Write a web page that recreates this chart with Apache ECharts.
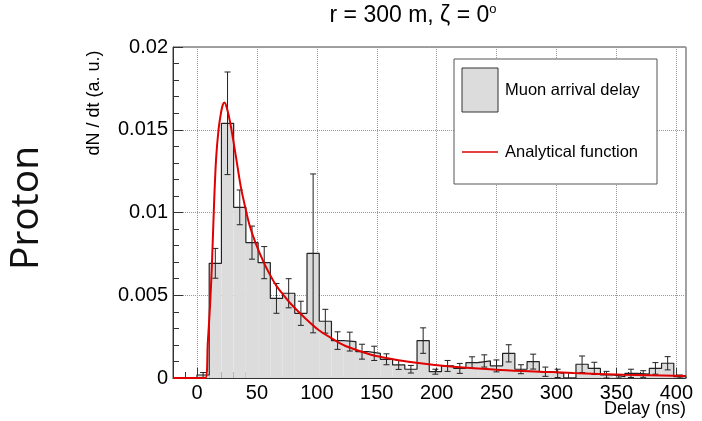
<!DOCTYPE html>
<html>
<head>
<meta charset="utf-8">
<script src="https://cdn.jsdelivr.net/npm/echarts@6/dist/echarts.min.js"></script>
<style>
  html, body { margin: 0; padding: 0; background: #fff; }
  #chart { width: 702px; height: 421px; }
</style>
</head>
<body>
<div id="chart"></div>
<script>
// histogram: 40 bins of 10.2 ns starting at 0
const binStart = 0
const binWidth = 10.2
const binValues = [0.00018, 0.00693, 0.01539, 0.01031, 0.00818, 0.00697, 0.00481, 0.00512, 0.00391, 0.00753,
  0.00343, 0.00226, 0.0022, 0.00159, 0.00149, 0.00113, 0.00079, 0.00053, 0.00226, 0.00038,
  0.00073, 0.00058, 0.00093, 0.00103, 0.00073, 0.00149, 0.00053, 0.00099, 0.00038, 0.00028,
  0, 0.00083, 0.00058, 0.00018, 0.00008, 0.00028, 0.00024, 0.00058, 0.00089, 0.00008]
const binErrors = [0.00015, 0.0009, 0.0031, 0.00105, 0.001, 0.00097, 0.0009, 0.00088, 0.00073, 0.0048,
  0.00072, 0.00053, 0.00057, 0.00045, 0.00043, 0.00033, 0.00027, 0.00023, 0.00077, 0.00015,
  0.00033, 0.0003, 0.00035, 0.00037, 0.00036, 0.00052, 0.00027, 0.00045, 0.00028, 0.00025,
  0, 0.0005, 0.00037, 0.00022, 0.0001, 0.00025, 0.0002, 0.00035, 0.0004, 0.0001]

// analytical function
const curveX = [-20, 7, 9, 11, 12.5, 14.4, 16, 18, 20, 21.5, 23, 25, 27.8, 32, 36.7, 40.3, 44, 48.7, 55.6, 61.2,
  66, 72.3, 78, 89, 101.5, 117, 125, 144.6, 153, 178, 214, 253, 295, 314, 356, 408]
const curveY = [0, 0, 0.0021, 0.0045, 0.0069, 0.0108, 0.0133, 0.0150, 0.0160, 0.0165, 0.01665, 0.0163, 0.0154, 0.0136, 0.0115, 0.0103, 0.0092, 0.0082, 0.0070, 0.0062,
  0.0056, 0.0050, 0.0045, 0.0037, 0.0029, 0.0022, 0.0019, 0.00142, 0.00128, 0.00097, 0.00068, 0.00049, 0.00036, 0.0003, 0.0002, 0.00012]

const xMajorTicks = [0, 50, 100, 150, 200, 250, 300, 350, 400]
const yTickLabels = ['0', '0.005', '0.01', '0.015', '0.02']

const font = 'Liberation Sans'

// minor ticks on x every 10 ns
const xMinorTicks = []
for (let v = -10; v <= 400; v += 10) xMinorTicks.push(v)

const bins = binValues.map((v, i) => {
  const lo = binStart + i * binWidth
  return [lo, lo + binWidth, v, binErrors[i]]
})

const outline = [[binStart, 0]]
bins.forEach(b => {
  outline.push([b[0], b[2]])
  outline.push([b[1], b[2]])
})
outline.push([bins[bins.length - 1][1], 0])

const chart = echarts.init(document.getElementById('chart'), null, { renderer: 'canvas' })

chart.setOption({
  animation: false,
  grid: {
    left: 173, top: 47, right: 16, bottom: 43,
    show: true, borderColor: '#444', borderWidth: 1, backgroundColor: 'transparent'
  },
  xAxis: [
    {
      type: 'value', min: -20, max: 408, position: 'bottom',
      axisLine: { show: true, onZero: false, lineStyle: { color: '#333' } },
      axisTick: { show: true, inside: true, length: 10, customValues: xMajorTicks, lineStyle: { color: '#333' } },
      axisLabel: { customValues: xMajorTicks, fontSize: 20, fontFamily: font, color: '#000', margin: 5 },
      splitLine: { show: true, lineStyle: { type: 'dotted', color: '#999' } }
    },
    {
      type: 'value', min: -20, max: 408, position: 'bottom',
      axisLine: { show: false, onZero: false },
      axisTick: { show: true, inside: true, length: 6, customValues: xMinorTicks, lineStyle: { color: '#333' } },
      axisLabel: { show: false },
      splitLine: { show: false }
    }
  ],
  yAxis: {
    type: 'value', min: 0, max: 0.02, interval: 0.005,
    axisLine: { show: true, onZero: false, lineStyle: { color: '#333' } },
    axisTick: { show: true, inside: true, length: 10, lineStyle: { color: '#333' } },
    minorTick: { show: true, splitNumber: 5, length: 6, lineStyle: { color: '#333' } },
    axisLabel: {
      fontSize: 20, fontFamily: font, color: '#000', margin: 5,
      formatter: (v) => yTickLabels[Math.round(v / 0.005)]
    },
    splitLine: { show: true, lineStyle: { type: 'dotted', color: '#999' } }
  },
  series: [
    {
      type: 'custom',
      name: 'Muon arrival delay',
      xAxisIndex: 0,
      z: 2,
      clip: true,
      data: bins,
      renderItem: (params, api) => {
        const p1 = api.coord([api.value(0), api.value(2)])
        const p2 = api.coord([api.value(1), 0])
        return {
          type: 'rect',
          shape: { x: p1[0], y: p1[1], width: p2[0] - p1[0], height: p2[1] - p1[1] },
          style: { fill: '#dcdcdc' }
        }
      }
    },
    {
      type: 'line',
      xAxisIndex: 0,
      z: 3,
      data: outline,
      symbol: 'none',
      lineStyle: { color: '#222', width: 1.2 }
    },
    {
      type: 'custom',
      xAxisIndex: 0,
      z: 4,
      data: bins,
      renderItem: (params, api) => {
        const err = api.value(3)
        if (!err) return null
        const mid = (api.value(0) + api.value(1)) / 2
        const top = api.coord([mid, api.value(2) + err])
        const bot = api.coord([mid, Math.max(0, api.value(2) - err)])
        const cap = 3
        const st = { stroke: '#222', lineWidth: 1 }
        return {
          type: 'group',
          children: [
            { type: 'line', shape: { x1: top[0], y1: top[1], x2: bot[0], y2: bot[1] }, style: st },
            { type: 'line', shape: { x1: top[0] - cap, y1: top[1], x2: top[0] + cap, y2: top[1] }, style: st },
            { type: 'line', shape: { x1: bot[0] - cap, y1: bot[1], x2: bot[0] + cap, y2: bot[1] }, style: st }
          ]
        }
      }
    },
    {
      type: 'line',
      name: 'Analytical function',
      xAxisIndex: 0,
      z: 5,
      data: curveX.map((x, i) => [x, curveY[i]]),
      symbol: 'none',
      smooth: 0.3,
      lineStyle: { color: '#e00000', width: 2 }
    }
  ],
  graphic: [
    {
      type: 'text', x: 413, y: 16, z: 10,
      style: {
        text: '{a|r = 300 m, ζ = 0}{s|o}',
        align: 'center', verticalAlign: 'middle',
        rich: {
          a: { fontSize: 23, fontFamily: font, fill: '#000', lineHeight: 26 },
          s: { fontSize: 13, fontFamily: font, fill: '#000', verticalAlign: 'top', lineHeight: 26 }
        }
      }
    },
    {
      type: 'text', x: 94, y: 103, rotation: Math.PI / 2, z: 10,
      style: { text: 'dN / dt (a. u.)', fontSize: 18, fontFamily: font, fill: '#000', align: 'center', verticalAlign: 'middle' }
    },
    {
      type: 'text', x: 686, y: 409, z: 10,
      style: { text: 'Delay (ns)', fontSize: 18, fontFamily: font, fill: '#000', align: 'right', verticalAlign: 'middle' }
    },
    {
      type: 'text', x: 27, y: 208, rotation: Math.PI / 2, z: 10,
      style: { text: 'Proton', fontSize: 39, fontFamily: 'Open Sans', fill: '#111', align: 'center', verticalAlign: 'middle' }
    },
    // legend box
    {
      type: 'rect', z: 10,
      shape: { x: 454, y: 59, width: 203, height: 125 },
      style: { fill: '#fff', stroke: '#555', lineWidth: 1 }
    },
    {
      type: 'rect', z: 11,
      shape: { x: 462, y: 68, width: 36, height: 44 },
      style: { fill: '#dcdcdc', stroke: '#333', lineWidth: 1 }
    },
    {
      type: 'text', x: 505, y: 90, z: 11,
      style: { text: 'Muon arrival delay', fontSize: 16.5, fontFamily: font, fill: '#000', verticalAlign: 'middle' }
    },
    {
      type: 'line', z: 11,
      shape: { x1: 462, y1: 152, x2: 498, y2: 152 },
      style: { stroke: '#e00000', lineWidth: 1.5 }
    },
    {
      type: 'text', x: 505, y: 152, z: 11,
      style: { text: 'Analytical function', fontSize: 16.5, fontFamily: font, fill: '#000', verticalAlign: 'middle' }
    }
  ]
})
</script>
</body>
</html>
